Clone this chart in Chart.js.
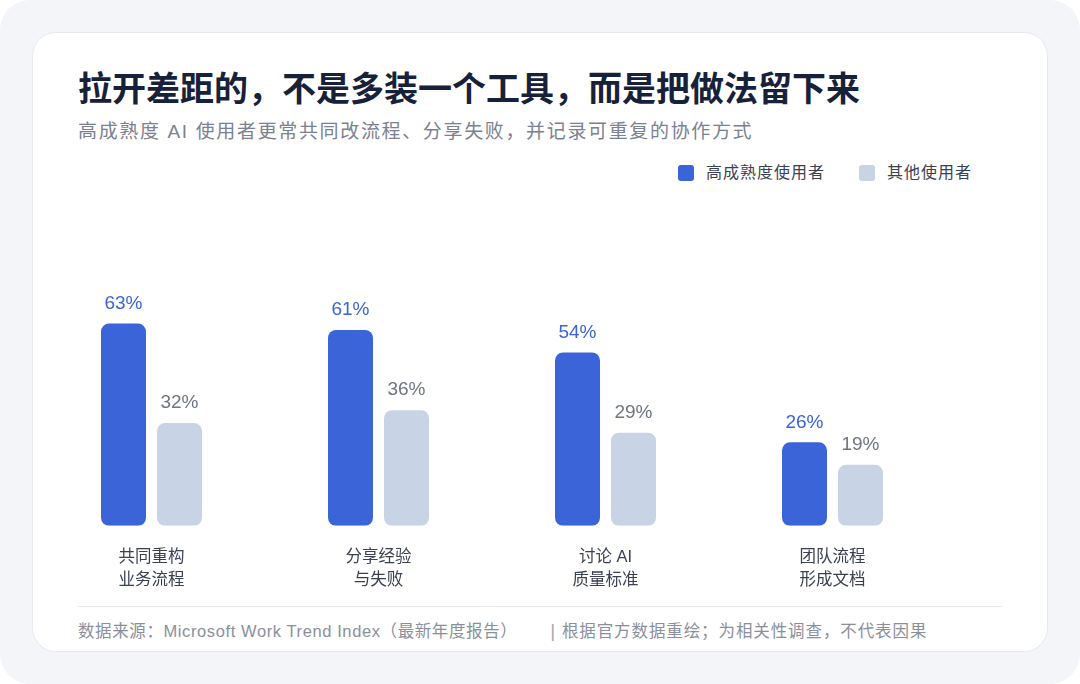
<!DOCTYPE html>
<html>
<head>
<meta charset="utf-8">
<script src="https://cdn.jsdelivr.net/npm/chart.js@4"></script>
<style>
  html, body { margin: 0; padding: 0; background: #fff; }
  body { width: 1080px; height: 684px; overflow: hidden; font-family: "Liberation Sans", "Noto Sans CJK SC", sans-serif; }
  .page { position: absolute; left: 0; top: 0; width: 1080px; height: 684px; background: #f3f5f9; border-radius: 30px; }
  .card { position: absolute; left: 32px; top: 32px; width: 1014px; height: 618px; background: #fff; border: 1px solid #e7eaf0; border-radius: 24px; }
  .title { position: absolute; left: 78px; top: 66px; font-size: 34px; font-weight: 700; color: #18213a; line-height: 46px; }
  .subtitle { position: absolute; left: 78px; top: 119px; font-size: 19px; letter-spacing: 1.65px; color: #7b8191; line-height: 26px; }
  .legend { position: absolute; top: 162px; left: 678px; display: flex; align-items: center; font-size: 16px; letter-spacing: 1px; color: #3b4152; line-height: 22px; }
  .legend .sw { width: 16px; height: 16px; border-radius: 3px; margin-right: 12px; }
  .legend .item { display: flex; align-items: center; margin-right: 34px; }
  .rule { position: absolute; left: 78px; top: 606px; width: 924px; height: 1px; background: #e6e9ef; }
  .footer { position: absolute; left: 78px; top: 619px; font-size: 16.5px; letter-spacing: 0.6px; color: #8a8f9b; line-height: 24px; white-space: nowrap; }
  .footer .sep { margin: 0 6px 0 33px; color: #a5aab5; font-size: 19px; }
  .footer .right { letter-spacing: 0.9px; }
  #chart { position: absolute; left: 0; top: 250px; }
</style>
</head>
<body>
<div class="page"></div>
<div class="card"></div>
<div class="title">拉开差距的，不是多装一个工具，而是把做法留下来</div>
<div class="subtitle">高成熟度 AI 使用者更常共同改流程、分享失败，并记录可重复的协作方式</div>
<div class="legend" id="legend"></div>
<div class="rule"></div>
<div class="footer">数据来源：Microsoft Work Trend Index（最新年度报告）<span class="sep">|</span><span class="right">根据官方数据重绘；为相关性调查，不代表因果</span></div>
<canvas id="chart" width="1080" height="362"></canvas>
<script>
const categories = [
  ['共同重构', '业务流程'],
  ['分享经验', '与失败'],
  ['讨论 AI', '质量标准'],
  ['团队流程', '形成文档']
]
const seriesNames = ['高成熟度使用者', '其他使用者']
const highMaturity = [63, 61, 54, 26]
const others = [32, 36, 29, 19]
const colors = ['#3a64d8', '#c9d3e6']
const labelColors = ['#3a64d8', '#6e7483']

// legend
const legend = document.querySelector('#legend')
seriesNames.forEach((name, i) => {
  const item = document.createElement('div')
  item.className = 'item'
  item.innerHTML = '<span class="sw" style="background:' + colors[i] + '"></span>' + name
  legend.appendChild(item)
})

const valueLabels = {
  id: 'valueLabels',
  afterDatasetsDraw(chart) {
    const c = chart.ctx
    chart.data.datasets.forEach((ds, di) => {
      const meta = chart.getDatasetMeta(di)
      meta.data.forEach((bar, i) => {
        c.save()
        c.font = '19px "Liberation Sans", "Noto Sans CJK SC", sans-serif'
        c.fillStyle = labelColors[di]
        c.textAlign = 'center'
        c.textBaseline = 'middle'
        c.fillText(ds.data[i] + '%', bar.x, bar.y - 20)
        c.restore()
      })
    })
  }
}

const ctx = document.querySelector('#chart')

new Chart(ctx, {
  type: 'bar',
  data: {
    labels: categories,
    datasets: [
      {
        label: seriesNames[0],
        data: highMaturity,
        backgroundColor: colors[0],
        borderRadius: 8,
        borderSkipped: false,
        categoryPercentage: 0.4934,
        barPercentage: 0.8036
      },
      {
        label: seriesNames[1],
        data: others,
        backgroundColor: colors[1],
        borderRadius: 8,
        borderSkipped: false,
        categoryPercentage: 0.4934,
        barPercentage: 0.8036
      }
    ]
  },
  options: {
    responsive: false,
    animation: false,
    layout: {
      padding: { left: 38, right: 134, top: 19, bottom: 0 }
    },
    scales: {
      y: {
        min: 0,
        max: 80,
        display: false
      },
      x: {
        grid: { display: false, drawTicks: false },
        border: { display: false },
        ticks: {
          color: '#3b4152',
          padding: 20,
          font: { family: '"Liberation Sans", "Noto Sans CJK SC", sans-serif', size: 16.5, lineHeight: 1.4 }
        }
      }
    },
    plugins: {
      legend: { display: false },
      tooltip: { enabled: false }
    }
  },
  plugins: [valueLabels]
})
</script>
</body>
</html>
